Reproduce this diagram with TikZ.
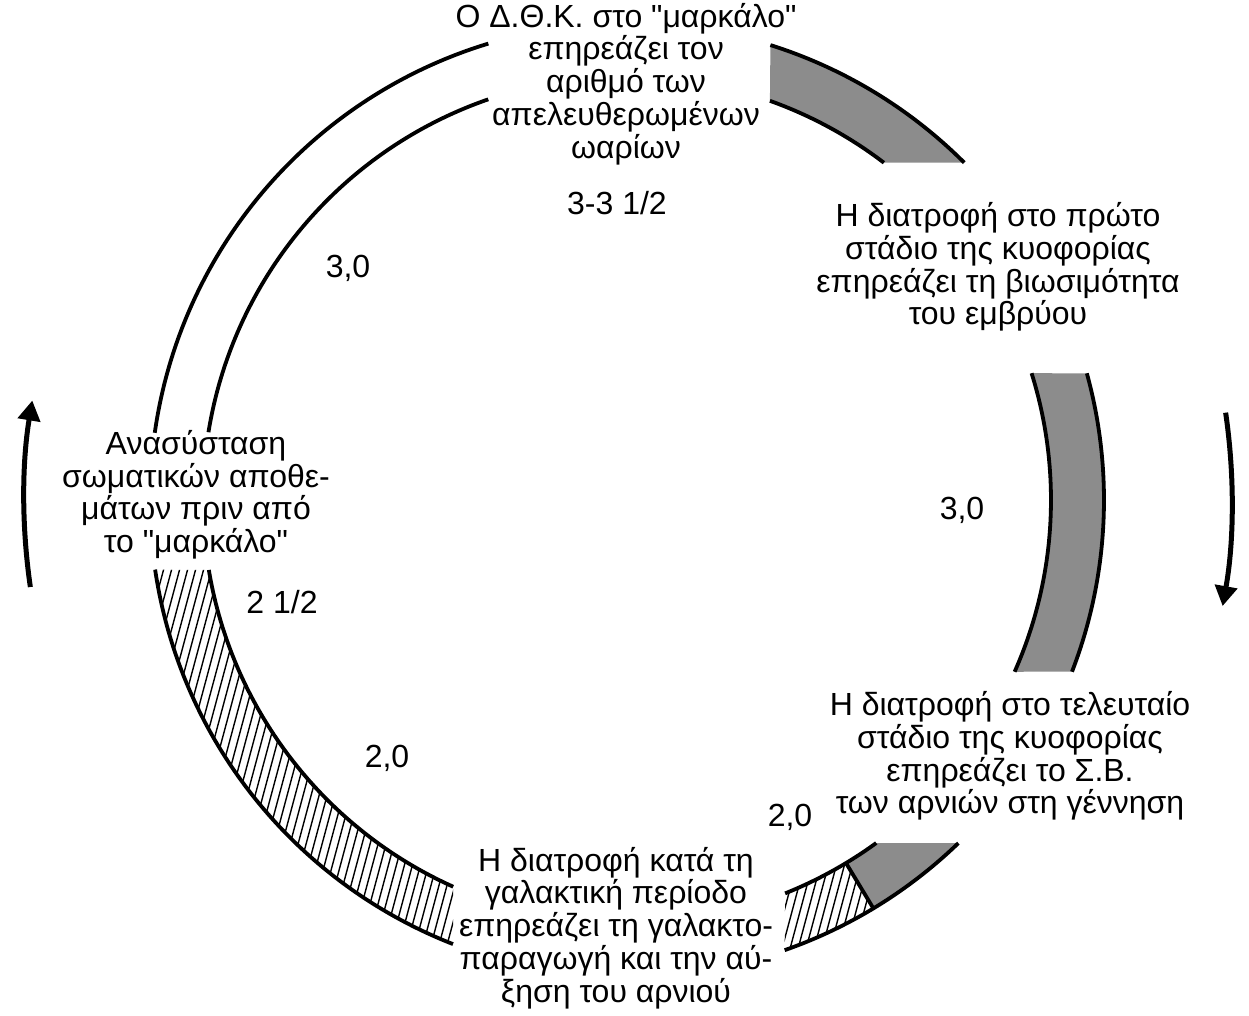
\documentclass[tikz,border=0pt]{standalone}
\usepackage{fontspec}
\setmainfont{Liberation Sans}[Ligatures=TeXOff]
\usetikzlibrary{arrows.meta,calc}
\begin{document}
\begin{tikzpicture}[
        x=0.5pt, y=0.5pt,
        rim/.style={line width=1.9pt},
        hatchline/.style={line width=0.7pt},
        dotfill/.style={fill=black!45},
        caption/.style={align=center, inner sep=0pt, font=\fontsize{16}{14.2}\selectfont},
        figure/.style={inner sep=0pt, font=\fontsize{16}{16}\selectfont},
        turn/.style={line width=2.5pt, -{Triangle[length=10pt,width=11pt]}}
    ]
    \useasboundingbox (0,0) rectangle (1249,1016);
    \coordinate (c) at (627,516);

    \draw[rim] (c) ++(106.9:477) arc[start angle=106.9, end angle=171.9, radius=477];
    \draw[rim] (c) ++(109.1:424) arc[start angle=109.1, end angle=170.8, radius=424];

    \fill[dotfill] (c) ++(72.5:477) arc[start angle=72.5, end angle=45, radius=477]
        -- ($(c)+(52.7:424)$) arc[start angle=52.7, end angle=70.3, radius=424] -- cycle;
    \draw[rim] (c) ++(72.5:477) arc[start angle=72.5, end angle=45, radius=477];
    \draw[rim] (c) ++(70.3:424) arc[start angle=70.3, end angle=52.7, radius=424];

    \fill[dotfill] (c) ++(15.4:477) arc[start angle=15.4, end angle=-21.1, radius=477]
        -- ($(c)+(-23.9:424)$) arc[start angle=-23.9, end angle=17.4, radius=424] -- cycle;
    \draw[rim] (c) ++(15.4:477) arc[start angle=15.4, end angle=-21.1, radius=477];
    \draw[rim] (c) ++(17.4:424) arc[start angle=17.4, end angle=-23.9, radius=424];

    \begin{scope}
        \clip (c) ++(188.4:477) arc[start angle=188.4, end angle=248.6, radius=477]
            -- ($(c)+(245.8:424)$) arc[start angle=245.8, end angle=189.5, radius=424] -- cycle;
        \foreach \x in {-300,-292,...,1249}
            \draw[hatchline] (\x,0) -- ++(75:1100);
    \end{scope}
    \draw[rim] (c) ++(188.4:477) arc[start angle=188.4, end angle=248.6, radius=477];
    \draw[rim] (c) ++(189.5:424) arc[start angle=189.5, end angle=245.8, radius=424];

    \begin{scope}
        \clip (c) ++(-70.7:477) arc[start angle=-70.7, end angle=-58.9, radius=477]
            -- ($(c)+(-58.9:424)$) arc[start angle=-58.9, end angle=-68.1, radius=424] -- cycle;
        \foreach \x in {-300,-292,...,1249}
            \draw[hatchline] (\x,0) -- ++(75:1100);
    \end{scope}
    \fill[dotfill] (c) ++(-58.9:477) arc[start angle=-58.9, end angle=-46, radius=477]
        -- ($(c)+(-54:424)$) arc[start angle=-54, end angle=-58.9, radius=424] -- cycle;
    \draw[rim] (c) ++(-70.7:477) arc[start angle=-70.7, end angle=-46, radius=477];
    \draw[rim] (c) ++(-68.1:424) arc[start angle=-68.1, end angle=-54, radius=424];
    \draw[rim] ($(c)+(-58.9:424)$) -- ($(c)+(-58.9:477)$);

    \draw[turn] (c) ++(188.3:603) arc[start angle=188.3, end angle=170.5, radius=603];
    \draw[turn] (c) ++(8.3:605) arc[start angle=8.3, end angle=-10.1, radius=605];

    \node[caption] (oestrus) at (626,932) {Ο Δ.Θ.Κ. στο "μαρκάλο"\\επηρεάζει τον\\αριθμό των\\απελευθερωμένων\\ωαρίων};
    \node[caption] (early) at (998,749) {Η διατροφή στο πρώτο\\στάδιο της κυοφορίας\\επηρεάζει τη βιωσιμότητα\\του εμβρύου};
    \node[caption] (late) at (1010,260) {Η διατροφή στο τελευταίο\\στάδιο της κυοφορίας\\επηρεάζει το Σ.Β.\\των αρνιών στη γέννηση};
    \node[caption] (milk) at (616,88) {Η διατροφή κατά τη\\γαλακτική περίοδο\\επηρεάζει τη γαλακτο-\\παραγωγή και την αύ-\\ξηση του αρνιού};
    \node[caption] (recover) at (196,521) {Ανασύσταση\\σωματικών αποθε-\\μάτων πριν από\\το "μαρκάλο"};

    \node[figure] (s1) at (617,813) {3-3 1/2};
    \node[figure] (s2) at (962,506) {3,0};
    \node[figure] (s3) at (790,199) {2,0};
    \node[figure] (s4) at (387,258) {2,0};
    \node[figure] (s5) at (282,414) {2 1/2};
    \node[figure] (s6) at (348,748) {3,0};
\end{tikzpicture}
\end{document}
